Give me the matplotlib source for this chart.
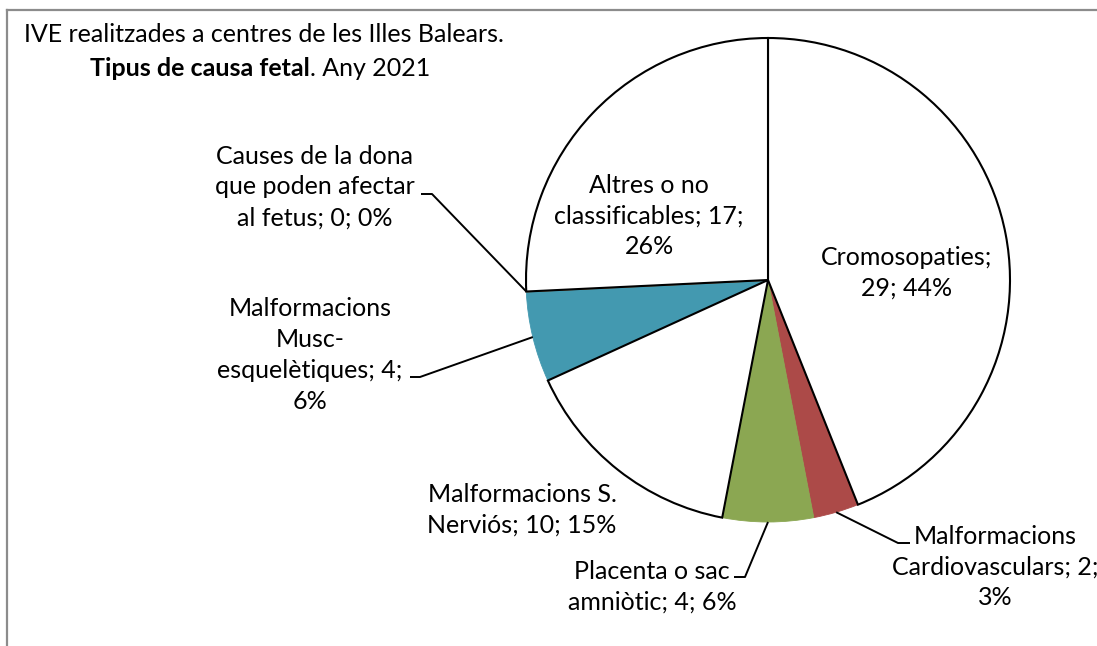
import matplotlib
matplotlib.use("Agg")
import matplotlib.pyplot as plt
from matplotlib.lines import Line2D
import numpy as np

plt.rcParams['font.family'] = ['Lato', 'DejaVu Sans']

# ---- data ----
categories = ["Cromosopaties", "Malformacions Cardiovasculars", "Placenta o sac amniòtic",
              "Malformacions S. Nerviós", "Malformacions Musc-esquelètiques",
              "Causes de la dona que poden afectar al fetus", "Altres o no classificables"]
values = [29, 2, 4, 10, 4, 0, 17]
label_templates = ["Cromosopaties;\n{v}; {p}%",
                   "Malformacions\nCardiovasculars; {v};\n{p}%",
                   "Placenta o sac\namniòtic; {v}; {p}%",
                   "Malformacions S.\nNerviós; {v}; {p}%",
                   "Malformacions\nMusc-\nesquelètiques; {v};\n{p}%",
                   "Causes de la dona\nque poden afectar\nal fetus; {v}; {p}%",
                   "Altres o no\nclassificables; {v};\n{p}%"]
title_line1 = "IVE realitzades a centres de les Illes Balears."
title_bold = "Tipus de causa fetal"
title_rest = ". Any 2021"

# ---- styles / layout ----
colors = ["#FFFFFF", "#AC4A48", "#8BA752", "#FFFFFF", "#4399B0", "#C0742E", "#FFFFFF"]
edge_black = [True, False, False, True, False, False, True]
label_xy = [(907, 273), (995, 567), (652, 587), (522, 510), (310, 355), (315, 187), (649, 216)]
# elbow / end points for leader lines (None = no leader)
leaders = [None,
           [(898, 543), (910, 543)],
           [(745, 577), (734, 577)],
           None,
           [(420, 377), (410, 377)],
           [(432, 194), (421, 194)],
           None]

W, H = 1097, 646
fig = plt.figure(figsize=(W / 100, H / 100), dpi=100)
ax = fig.add_axes([0, 0, 1, 1])
cx, cy, R = 768, 280, 242

wedges, _ = ax.pie(values, colors=colors, startangle=-90, counterclock=True,
                   center=(cx, cy), radius=R)
for w, blk, c in zip(wedges, edge_black, colors):
    if blk:
        w.set_edgecolor("black")
        w.set_linewidth(1.5)
        w.set_zorder(3)
    else:
        w.set_edgecolor(c)
        w.set_linewidth(0.6 if c != "#C0742E" else 1.2)
        w.set_zorder(2)

ax.set_xlim(0, W)
ax.set_ylim(H, 0)
ax.set_aspect('auto')
ax.axis('off')

total = sum(values)
fs = 18
for i, (w, tpl, xy) in enumerate(zip(wedges, label_templates, label_xy)):
    p = int(round(values[i] / total * 100))
    ax.text(xy[0], xy[1], tpl.format(v=values[i], p=p), ha='center', va='center',
            fontsize=fs, linespacing=1.42, color="black", zorder=5)
    if leaders[i] is not None:
        mid = np.deg2rad((w.theta1 + w.theta2) / 2)
        ax0 = cx + R * np.cos(mid)
        ay0 = cy + R * np.sin(mid)
        xs = [ax0] + [pt[0] for pt in leaders[i]]
        ys = [ay0] + [pt[1] for pt in leaders[i]]
        ax.plot(xs, ys, color="black", lw=1.4, zorder=4, solid_capstyle='butt')

# title
ax.text(264, 35, title_line1, ha='center', va='center', fontsize=fs, zorder=5)
tb = ax.text(0, 68, title_bold, ha='left', va='center', fontsize=fs, fontweight='bold', zorder=5)
tr = ax.text(0, 68, title_rest, ha='left', va='center', fontsize=fs, zorder=5)
renderer = fig.canvas.get_renderer()
wb = tb.get_window_extent(renderer).width
wr = tr.get_window_extent(renderer).width
x0 = 260 - (wb + wr) / 2
tb.set_x(x0)
tr.set_x(x0 + wb)

# frame (top and left visible)
fig.add_artist(Line2D([7 / W, 7 / W], [0, 1 - 10 / H], transform=fig.transFigure,
                      color="#8C8C8C", lw=1.6))
fig.add_artist(Line2D([7 / W, 1], [1 - 10 / H, 1 - 10 / H], transform=fig.transFigure,
                      color="#8C8C8C", lw=1.6))

fig.savefig("out.png", dpi=100, facecolor="white")
